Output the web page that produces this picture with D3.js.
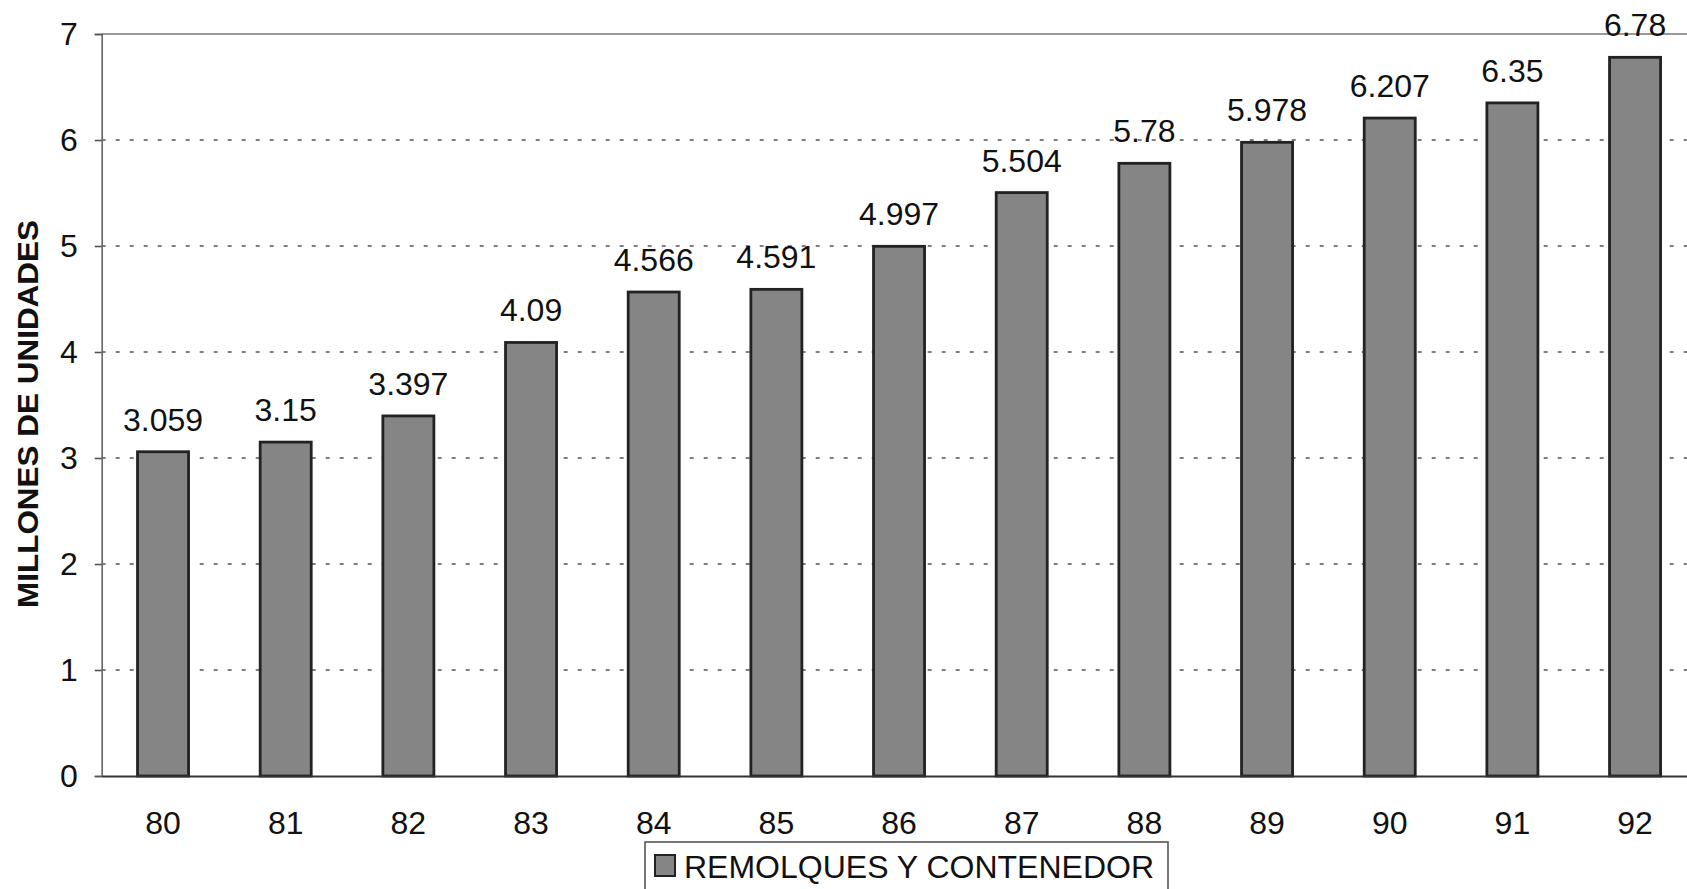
<!DOCTYPE html>
<html>
<head>
<meta charset="utf-8">
<script src="https://cdn.jsdelivr.net/npm/d3@7"></script>
<style>
  html, body { margin: 0; padding: 0; background: #fff; }
  svg { display: block; font-family: Arial, "Liberation Sans", sans-serif; }
</style>
</head>
<body>
<svg id="chart" width="1687" height="889"></svg>
<script>
// Annual units (millions) of trailers and containers, 1980–1992
const years = ["80", "81", "82", "83", "84", "85", "86", "87", "88", "89", "90", "91", "92"];
const units = [3.059, 3.15, 3.397, 4.09, 4.566, 4.591, 4.997, 5.504, 5.78, 5.978, 6.207, 6.35, 6.78];
const yTicks = [0, 1, 2, 3, 4, 5, 6, 7];
const seriesName = "REMOLQUES Y CONTENEDOR";
const yTitle = "MILLONES DE UNIDADES";

const svg = d3.select("#chart");
const plot = { left: 101.7, top: 34, bottom: 776, right: 1696.4 };
const labelSize = 32;

const x = d3.scaleBand()
  .domain(years)
  .range([plot.left, plot.right])
  .paddingInner(0.584)
  .paddingOuter(0.292);

const y = d3.scaleLinear()
  .domain([0, 7])
  .range([plot.bottom, plot.top]);

// dotted horizontal gridlines
svg.append("g")
  .selectAll("line")
  .data(yTicks.filter(t => t > 0 && t < 7))
  .join("line")
  .attr("x1", plot.left)
  .attr("x2", plot.right)
  .attr("y1", d => y(d))
  .attr("y2", d => y(d))
  .attr("stroke", "#555")
  .attr("stroke-width", 1.6)
  .attr("stroke-dasharray", "4,10");

// plot frame: top border
svg.append("line")
  .attr("x1", plot.left).attr("x2", plot.right)
  .attr("y1", plot.top).attr("y2", plot.top)
  .attr("stroke", "#777").attr("stroke-width", 1.6);

const rows = years.map((yr, i) => ({ yr, v: units[i] }));

// bars
svg.append("g")
  .selectAll("rect")
  .data(rows)
  .join("rect")
  .attr("x", d => x(d.yr))
  .attr("y", d => y(d.v))
  .attr("width", x.bandwidth())
  .attr("height", d => y(0) - y(d.v))
  .attr("fill", "#858585")
  .attr("stroke", "#222")
  .attr("stroke-width", 2.8);

// value labels above bars
svg.append("g")
  .selectAll("text")
  .data(rows)
  .join("text")
  .attr("x", d => x(d.yr) + x.bandwidth() / 2)
  .attr("y", d => y(d.v) - 21)
  .attr("text-anchor", "middle")
  .attr("font-size", labelSize)
  .attr("fill", "#111")
  .text(d => d.v);

// y axis
const yAxis = svg.append("g")
  .attr("transform", `translate(${plot.left},0)`)
  .call(d3.axisLeft(y).tickValues(yTicks).tickSize(7).tickPadding(17).tickFormat(d3.format("d")));
yAxis.select(".domain").attr("stroke", "#666").attr("stroke-width", 1.6);
yAxis.selectAll(".tick line").attr("stroke", "#555").attr("stroke-width", 1.6);
yAxis.selectAll("text").attr("font-size", labelSize).attr("fill", "#111").attr("font-family", "Arial, 'Liberation Sans', sans-serif");

// x axis
const xAxis = svg.append("g")
  .attr("transform", `translate(0,${plot.bottom})`)
  .call(d3.axisBottom(x).tickSize(0).tickPadding(35));
xAxis.select(".domain").attr("stroke", "#333").attr("stroke-width", 1.8);
xAxis.selectAll("text").attr("font-size", labelSize).attr("fill", "#111").attr("font-family", "Arial, 'Liberation Sans', sans-serif");

// y axis title
svg.append("text")
  .attr("transform", "translate(38,414) rotate(-90)")
  .attr("text-anchor", "middle")
  .attr("font-size", 29)
  .attr("font-weight", "bold")
  .attr("fill", "#111")
  .attr("textLength", 388)
  .attr("lengthAdjust", "spacingAndGlyphs")
  .text(yTitle);

// legend
const legend = svg.append("g");
legend.append("rect")
  .attr("x", 645).attr("y", 842)
  .attr("width", 523).attr("height", 70)
  .attr("fill", "#fff")
  .attr("stroke", "#555").attr("stroke-width", 1.6);
legend.append("rect")
  .attr("x", 655).attr("y", 855)
  .attr("width", 20).attr("height", 21)
  .attr("fill", "#858585")
  .attr("stroke", "#222").attr("stroke-width", 2);
legend.append("text")
  .attr("x", 684).attr("y", 878)
  .attr("font-size", 32)
  .attr("fill", "#111")
  .text(seriesName);
</script>
</body>
</html>
